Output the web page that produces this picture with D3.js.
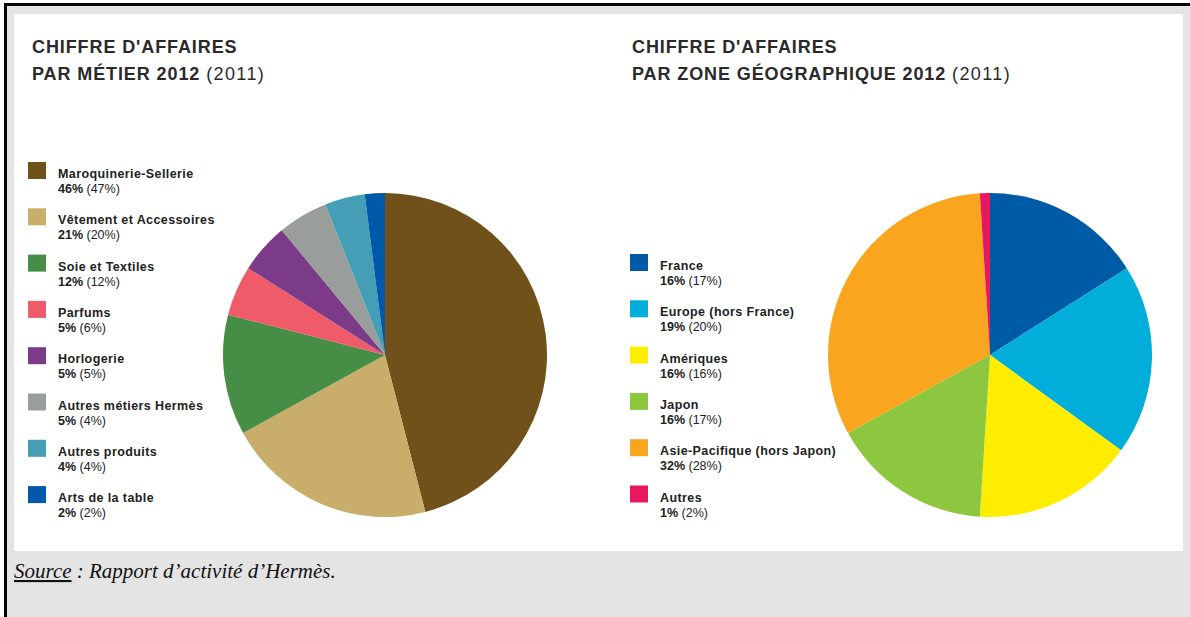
<!DOCTYPE html>
<html>
<head>
<meta charset="utf-8">
<script src="https://cdn.jsdelivr.net/npm/d3@7"></script>
<style>
  body { margin: 0; background: #fff; }
  .sans { font-family: "Liberation Sans", Arial, sans-serif; }
  .serif { font-family: "Liberation Serif", "DejaVu Serif", serif; }
</style>
</head>
<body>
<script>
// chiffre d'affaires par métier, 2012 and (2011)
const metierLabels = ["Maroquinerie-Sellerie", "Vêtement et Accessoires", "Soie et Textiles", "Parfums",
  "Horlogerie", "Autres métiers Hermès", "Autres produits", "Arts de la table"];
const metier2012 = [46, 21, 12, 5, 5, 5, 4, 2];
const metier2011 = [47, 20, 12, 6, 5, 4, 4, 2];
const metierColors = ["#6f5119", "#c9ad6a", "#468d45", "#ef5b68", "#7b3b88", "#9a9e9b", "#449fb6", "#0059a9"];

// chiffre d'affaires par zone géographique
const zoneLabels = ["France", "Europe (hors France)", "Amériques", "Japon", "Asie-Pacifique (hors Japon)", "Autres"];
const zone2012 = [16, 19, 16, 16, 32, 1];
const zone2011 = [17, 20, 16, 17, 28, 2];
const zoneColors = ["#005ba7", "#00aed9", "#ffed00", "#8dc63f", "#f9a51e", "#e9175e"];

const W = 1190, H = 617;

var svg = d3.select("body").append("svg")
    .attr("width", W)
    .attr("height", H);

// frame: gray sheet, black edge top/left, white panel
svg.append("rect").attr("x", 4).attr("y", 3).attr("width", W - 4).attr("height", H - 3).attr("fill", "#e4e4e4");
svg.append("rect").attr("x", 4).attr("y", 3).attr("width", W - 4).attr("height", 3).attr("fill", "#000");
svg.append("rect").attr("x", 4).attr("y", 3).attr("width", 3).attr("height", H - 3).attr("fill", "#000");
svg.append("rect").attr("x", 14).attr("y", 14).attr("width", 1169).attr("height", 537).attr("fill", "#fff");

function title(x, line2) {
    let g = svg.append("g").attr("class", "sans").attr("fill", "#2a2a2a").attr("font-size", 18).attr("letter-spacing", 0.9);
    g.append("text").attr("x", x).attr("y", 53).attr("font-weight", "bold").text("CHIFFRE D'AFFAIRES");
    let t = g.append("text").attr("x", x).attr("y", 80);
    t.append("tspan").attr("font-weight", "bold").text(line2 + " ");
    t.append("tspan").attr("font-weight", "normal").attr("letter-spacing", 1.4).text("(2011)");
}

function legend(x, y0, labels, v12, v11, colors) {
    let g = svg.append("g").attr("class", "sans").attr("transform", `translate(${x},${y0})`);
    let item = g.selectAll("g").data(labels).enter().append("g")
        .attr("transform", (d, i) => `translate(0,${i * 46.3})`);
    item.append("rect").attr("x", 0).attr("y", 0).attr("width", 18).attr("height", 17)
        .attr("fill", (d, i) => colors[i]);
    item.append("text").attr("x", 30).attr("y", 16)
        .attr("font-size", 12.5).attr("font-weight", "bold").attr("fill", "#222")
        .attr("letter-spacing", 0.4)
        .text(d => d);
    let p = item.append("text").attr("x", 30).attr("y", 31)
        .attr("font-size", 12.5).attr("fill", "#222");
    p.append("tspan").attr("font-weight", "bold").text((d, i) => v12[i] + "% ");
    p.append("tspan").attr("font-weight", "normal").text((d, i) => "(" + v11[i] + "%)");
}

function pie(cx, cy, r, values, colors) {
    let arcs = d3.pie().sort(null).value(d => d)(values);
    let arc = d3.arc().innerRadius(0).outerRadius(r);
    svg.append("g").attr("transform", `translate(${cx},${cy})`)
        .selectAll("path").data(arcs).enter().append("path")
        .attr("d", arc)
        .attr("fill", (d, i) => colors[i]);
}

title(32, "PAR MÉTIER 2012");
title(632, "PAR ZONE GÉOGRAPHIQUE 2012");

legend(28, 162, metierLabels, metier2012, metier2011, metierColors);
legend(630, 254, zoneLabels, zone2012, zone2011, zoneColors);

pie(385, 355, 162, metier2012, metierColors);
pie(990, 355, 162, zone2012, zoneColors);

// source line
let src = svg.append("text").attr("class", "serif").attr("x", 14).attr("y", 578)
    .attr("font-style", "italic")
    .attr("font-size", 21).attr("fill", "#111");
src.append("tspan").attr("text-decoration", "underline").text("Source");
src.append("tspan").text(" : Rapport d’activité d’Hermès.");
</script>
</body>
</html>
